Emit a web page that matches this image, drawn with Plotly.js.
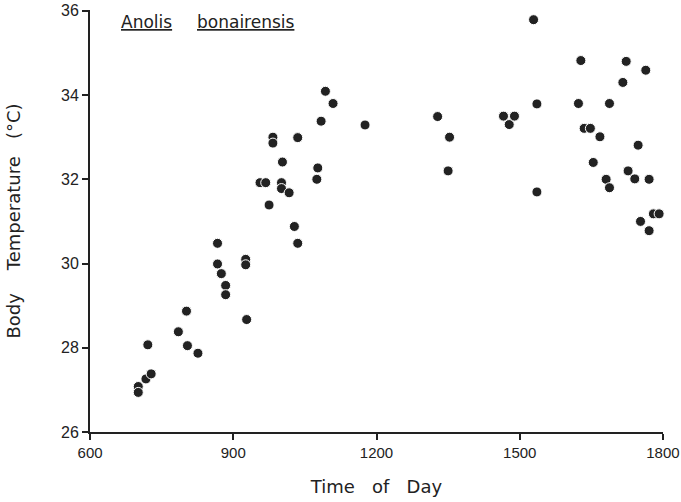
<!DOCTYPE html>
<html>
<head>
<meta charset="utf-8">
<script src="https://cdn.plot.ly/plotly-3.0.1.min.js"></script>
<style>html,body{margin:0;padding:0;background:#fff;}#chart{width:681px;height:502px;}</style>
</head>
<body>
<div id="chart"></div>
<script>
// Time of day (hhmm as number) for each lizard
const timeOfDay = [
  701, 701, 717, 728, 721, 785, 802, 804, 826,
  867, 867, 875, 884, 884, 926, 926, 928,
  956, 968, 975, 983, 983, 1001, 1001, 1003, 1017, 1028, 1035, 1035,
  1075, 1077, 1084, 1093, 1109, 1176,
  1328, 1350, 1353, 1466, 1478, 1489,
  1529, 1536, 1536, 1623, 1628, 1635, 1648, 1654, 1668, 1681, 1688, 1688,
  1716, 1723, 1727, 1741, 1748, 1753, 1764, 1771, 1771, 1780, 1792
];
// Body temperature (°C)
const bodyTemp = [
  27.08, 26.94, 27.26, 27.38, 28.07, 28.38, 28.87, 28.05, 27.87,
  30.48, 29.99, 29.76, 29.48, 29.26, 30.10, 29.97, 28.67,
  31.92, 31.92, 31.39, 33.00, 32.86, 31.92, 31.78, 32.41, 31.68, 30.88, 30.48, 32.99,
  32.00, 32.27, 33.38, 34.09, 33.80, 33.29,
  33.49, 32.20, 33.00, 33.50, 33.30, 33.50,
  35.79, 33.79, 31.70, 33.80, 34.82, 33.21, 33.21, 32.40, 33.01, 32.00, 33.80, 31.80,
  34.30, 34.80, 32.20, 32.01, 32.81, 31.00, 34.59, 32.00, 30.78, 31.18, 31.18
];
const xTicks = [600, 900, 1200, 1500, 1800];
const yTicks = [26, 28, 30, 32, 34, 36];
const titleGenus = "Anolis";
const titleSpecies = "bonairensis";
const xTitle = "Time\u00a0\u00a0\u00a0of\u00a0\u00a0\u00a0Day";
const yTitle = "Body\u00a0\u00a0\u00a0\u00a0Temperature\u00a0\u00a0\u00a0(\u00b0C)";

const ink = '#222222';
const font = 'DejaVu Sans, Liberation Sans, Arial, sans-serif';
const tickFont = 'Liberation Sans, Arial, sans-serif';

const trace = {
  x: timeOfDay, y: bodyTemp,
  type: 'scatter', mode: 'markers',
  marker: {size: 10, color: ink, line: {color: '#ffffff', width: 1}},
  hoverinfo: 'x+y', cliponaxis: false
};

const axisCommon = {
  showgrid: false, zeroline: false,
  showline: true, linecolor: ink, linewidth: 2,
  ticks: 'outside', ticklen: 6, tickwidth: 2, tickcolor: ink,
  ticklabeloverflow: 'allow',
  mirror: false, fixedrange: true
};

const layout = {
  width: 681, height: 502,
  margin: {l: 90, r: 18, t: 10, b: 70},
  paper_bgcolor: '#ffffff', plot_bgcolor: '#ffffff',
  showlegend: false,
  font: {family: font, color: ink},
  xaxis: Object.assign({}, axisCommon, {
    range: [599.9, 1800.1], tickmode: 'array', tickvals: xTicks, ticktext: xTicks.map(String),
    tickfont: {family: tickFont, size: 15, color: ink},
    title: {text: xTitle, font: {family: font, size: 18, color: ink}, standoff: 20}
  }),
  yaxis: Object.assign({}, axisCommon, {
    range: [26, 36.02], tickmode: 'array', tickvals: yTicks, ticktext: yTicks.map(String),
    tickfont: {family: tickFont, size: 16, color: ink},
    title: {text: yTitle, font: {family: font, size: 18, color: ink}, standoff: 36}
  }),
  annotations: [
    {text: '<u>' + titleGenus + '</u>', xref: 'paper', yref: 'paper',
     x: 0.098, y: 0.972, xanchor: 'center', yanchor: 'middle', showarrow: false,
     font: {family: font, size: 17, color: ink}},
    {text: '<u>' + titleSpecies + '</u>', xref: 'paper', yref: 'paper',
     x: 0.272, y: 0.972, xanchor: 'center', yanchor: 'middle', showarrow: false,
     font: {family: font, size: 17, color: ink}}
  ]
};

Plotly.newPlot('chart', [trace], layout, {displayModeBar: false, staticPlot: true});
</script>
</body>
</html>
